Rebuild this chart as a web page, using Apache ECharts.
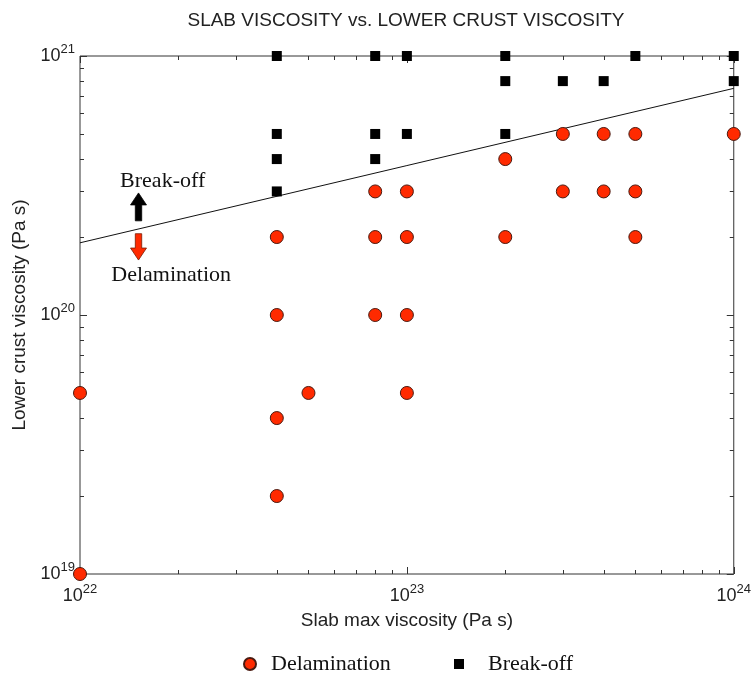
<!DOCTYPE html>
<html><head><meta charset="utf-8">
<script src="https://cdn.jsdelivr.net/npm/echarts@6/dist/echarts.min.js"></script>
<style>html,body{margin:0;padding:0;background:#fff}#c{width:754px;height:673px}</style>
</head><body><div id="c"></div>
<script>
// ---- data ----
const delaminationX = [1e22,1e22, 4e22,4e22,4e22,4e22, 5e22, 8e22,8e22,8e22, 1e23,1e23,1e23,1e23, 2e23,2e23, 3e23,3e23, 4e23,4e23, 5e23,5e23,5e23, 1e24];
const delaminationY = [5e19,1e19, 2e20,1e20,4e19,2e19, 5e19, 3e20,2e20,1e20, 3e20,2e20,1e20,5e19, 4e20,2e20, 5e20,3e20, 5e20,3e20, 5e20,3e20,2e20, 5e20];
const breakoffX = [4e22,4e22,4e22,4e22, 8e22,8e22,8e22, 1e23,1e23, 2e23,2e23,2e23, 3e23, 4e23, 5e23, 1e24,1e24];
const breakoffY = [1e21,5e20,4e20,3e20, 1e21,5e20,4e20, 1e21,5e20, 1e21,8e20,5e20, 8e20, 8e20, 1e21, 1e21,8e20];
const boundaryX = [1e22, 1e24];
const boundaryY = [1.9e20, 7.5e20];
// annotation anchors (data coordinates)
const arrowUp = [1.51e22, 2.31e20, 2.96e20];
const arrowDown = [1.51e22, 2.06e20, 1.63e20];
const noteBreak = [1.79e22, 3.29e20, 'Break-off'];
const noteDelam = [1.90e22, 1.43e20, 'Delamination'];
// axis tick values
const xMajor = [1e22, 1e23, 1e24];
const xMinor = [2e22,3e22,4e22,5e22,6e22,7e22,8e22,9e22, 2e23,3e23,4e23,5e23,6e23,7e23,8e23,9e23];
const yMajor = [1e19, 1e20, 1e21];
const yMinor = [2e19,3e19,4e19,5e19,6e19,7e19,8e19,9e19, 2e20,3e20,4e20,5e20,6e20,7e20,8e20,9e20];

const zip = (a, b) => a.map((v, i) => [v, b[i]]);
const sans = 'Liberation Sans, Arial, Helvetica, sans-serif';
const serif = 'Liberation Serif, Times New Roman, serif';
const supFmt = v => '{b|10}{s|' + Math.round(Math.log10(v)) + '}';
const richLbl = {
  b: {fontSize: 18, fontFamily: sans, color: '#222'},
  s: {fontSize: 13, fontFamily: sans, color: '#222', padding: [0, 0, 14, 0]}
};

const chart = echarts.init(document.getElementById('c'), null, {renderer: 'canvas'});

function tickRender(isX) {
  return function (params, api) {
    const cs = params.coordSys;
    const v = api.value(isX ? 0 : 1);
    const len = api.value(2);
    const p = api.coord([isX ? v : 1e20, isX ? 1e20 : v]);
    const st = {stroke: '#333', lineWidth: 1};
    if (isX) {
      const x = Math.round(p[0]) + 0.5;
      return {type: 'group', children: [
        {type: 'line', shape: {x1: x, y1: cs.y + cs.height, x2: x, y2: cs.y + cs.height - len}, style: st},
        {type: 'line', shape: {x1: x, y1: cs.y, x2: x, y2: cs.y + len}, style: st}
      ]};
    } else {
      const y = Math.round(p[1]) + 0.5;
      return {type: 'group', children: [
        {type: 'line', shape: {x1: cs.x, y1: y, x2: cs.x + len, y2: y}, style: st},
        {type: 'line', shape: {x1: cs.x + cs.width, y1: y, x2: cs.x + cs.width - len, y2: y}, style: st}
      ]};
    }
  };
}

function arrowRender(params, api) {
  const x = api.value(0), y0 = api.value(1), y1 = api.value(2);
  const fill = api.value(3) === 1 ? '#000' : '#ff2a00';
  const stroke = api.value(3) === 1 ? '#000' : '#7a1a00';
  const a = api.coord([x, y0]), b = api.coord([x, y1]);
  const dir = b[1] < a[1] ? -1 : 1;
  const cx = a[0], hw = 3.2, hh = 8, headLen = 12;
  const yb = b[1] - dir * headLen;
  const pts = [[cx - hw, a[1]], [cx + hw, a[1]], [cx + hw, yb], [cx + hh, yb], [cx, b[1]], [cx - hh, yb], [cx - hw, yb]];
  return {type: 'polygon', shape: {points: pts}, style: {fill: fill, stroke: stroke, lineWidth: 0.8}};
}

function noteRender(params, api) {
  const p = api.coord([api.value(0), api.value(1)]);
  const txt = params.dataIndex === 0 ? noteBreak[2] : noteDelam[2];
  return {type: 'text', x: p[0], y: p[1], style: {text: txt, font: '22px ' + serif, fill: '#111', align: 'center', verticalAlign: 'middle'}};
}

const option = {
  backgroundColor: '#fff',
  animation: false,
  title: {
    text: 'SLAB VISCOSITY vs. LOWER CRUST VISCOSITY',
    left: 406, top: 11, textAlign: 'center', padding: 0,
    textStyle: {fontSize: 19, fontWeight: 'normal', fontFamily: sans, color: '#222'}
  },
  grid: {left: 80, right: 17, top: 56, bottom: 99, show: true, borderColor: '#333', borderWidth: 1, containLabel: false},
  legend: [
    {data: [{name: 'Delamination', icon: 'circle'}], left: 243, top: 653, itemWidth: 12, itemHeight: 12, padding: 0,
     textStyle: {fontFamily: serif, fontSize: 22, color: '#111', padding: [0, 0, 0, 10]}},
    {data: [{name: 'Break-off', icon: 'rect'}], left: 454, top: 653, itemWidth: 10, itemHeight: 10, padding: 0,
     textStyle: {fontFamily: serif, fontSize: 22, color: '#111', padding: [0, 0, 0, 19]}}
  ],
  xAxis: {
    type: 'log', logBase: 10, min: 1e22, max: 1e24,
    name: 'Slab max viscosity (Pa s)', nameLocation: 'middle', nameGap: 37,
    nameTextStyle: {fontSize: 19, fontFamily: sans, color: '#222'},
    axisLine: {show: false}, axisTick: {show: false}, splitLine: {show: false}, minorTick: {show: false},
    axisLabel: {formatter: supFmt, rich: richLbl, margin: 9, showMinLabel: true, showMaxLabel: true}
  },
  yAxis: {
    type: 'log', logBase: 10, min: 1e19, max: 1e21,
    name: 'Lower crust viscosity (Pa s)', nameLocation: 'middle', nameGap: 45,
    nameTextStyle: {fontSize: 19, fontFamily: sans, color: '#222'},
    axisLine: {show: false}, axisTick: {show: false}, splitLine: {show: false}, minorTick: {show: false},
    axisLabel: {formatter: supFmt, rich: richLbl, margin: 5, showMinLabel: true, showMaxLabel: true}
  },
  series: [
    {type: 'custom', name: 'xt', renderItem: tickRender(true), silent: true, clip: false, z: 1,
     data: xMajor.map(v => [v, 1e20, 7]).concat(xMinor.map(v => [v, 1e20, 4]))},
    {type: 'custom', name: 'yt', renderItem: tickRender(false), silent: true, clip: false, z: 1,
     data: yMajor.map(v => [1e23, v, 7]).concat(yMinor.map(v => [1e23, v, 4]))},
    {type: 'line', name: 'boundary', data: zip(boundaryX, boundaryY), symbol: 'none', silent: true,
     lineStyle: {color: '#111', width: 1}, z: 2},
    {type: 'scatter', name: 'Break-off', data: zip(breakoffX, breakoffY), symbol: 'rect', symbolSize: 10, clip: false,
     itemStyle: {color: '#000', opacity: 1}, z: 3},
    {type: 'scatter', name: 'Delamination', data: zip(delaminationX, delaminationY), symbol: 'circle', symbolSize: 13, clip: false,
     itemStyle: {color: '#ff2a00', borderColor: '#4a1a10', borderWidth: 1, opacity: 1}, z: 4},
    {type: 'custom', name: 'arrows', renderItem: arrowRender, silent: true, clip: false, z: 5,
     data: [[arrowUp[0], arrowUp[1], arrowUp[2], 1], [arrowDown[0], arrowDown[1], arrowDown[2], 2]]},
    {type: 'custom', name: 'notes', renderItem: noteRender, silent: true, clip: false, z: 5,
     data: [[noteBreak[0], noteBreak[1]], [noteDelam[0], noteDelam[1]]]}
  ]
};
chart.setOption(option);
</script>
</body></html>
